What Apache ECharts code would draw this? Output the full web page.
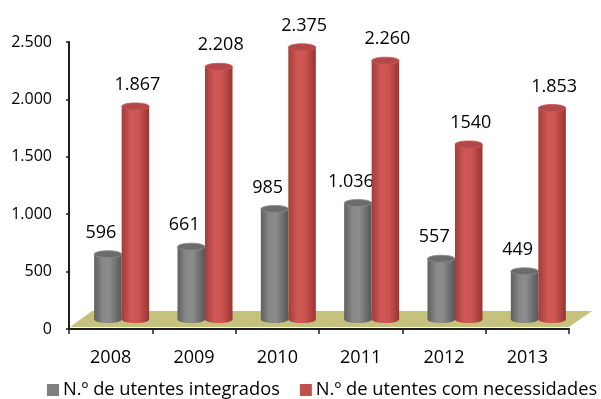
<!DOCTYPE html>
<html>
<head>
<meta charset="utf-8">
<script src="https://cdn.jsdelivr.net/npm/echarts@6/dist/echarts.min.js"></script>
<style>
  html, body { margin: 0; padding: 0; background: #ffffff; }
  #chart { width: 601px; height: 399px; }
</style>
</head>
<body>
<div id="chart"></div>
<script>
// Utentes por ano
const years = ['2008', '2009', '2010', '2011', '2012', '2013'];
const integrados = [596, 661, 985, 1036, 557, 449];
const necessidades = [1867, 2208, 2375, 2260, 1540, 1853];
const integradosText = ['596', '661', '985', '1.036', '557', '449'];
const necessidadesText = ['1.867', '2.208', '2.375', '2.260', '1540', '1.853'];
const yMax = 2500;
const yStep = 500;

const FONT = '"Open Sans", "Liberation Sans", sans-serif';

// thousands separator with a dot: 2500 -> "2.500"
function fmtThousands(v) {
  if (v < 1000) return String(v);
  const r = v % 1000;
  return Math.floor(v / 1000) + '.' + String(r).padStart(3, '0');
}

// 3D-looking cylinder for one data item; side = -1 (left column) or +1 (right column)
function cylinderRenderer(texts, body, topFill, side, labelShift) {
  return function (params, api) {
    const cat = api.value(0);
    const val = api.value(1);
    const base = api.coord([cat, 0]);
    const tip = api.coord([cat, val]);
    const band = api.size([1, 0])[0];
    const rx = band * 0.165;
    const ry = 3.5;
    const cx = base[0] + band * 0.132 + side * rx;
    const yBottom = base[1] - 9.5;
    const yTop = base[1] + (tip[1] - base[1]) * 1.013 - 5.5;
    const grad = {
      type: 'linear', x: 0, y: 0, x2: 1, y2: 0,
      colorStops: body
    };
    return {
      type: 'group',
      children: [
        { type: 'ellipse', shape: { cx: cx, cy: yBottom, rx: rx, ry: ry }, style: { fill: grad } },
        { type: 'rect', shape: { x: cx - rx, y: yTop, width: rx * 2, height: yBottom - yTop }, style: { fill: grad } },
        { type: 'ellipse', shape: { cx: cx, cy: yTop, rx: rx, ry: ry }, style: { fill: topFill, stroke: body[2].color, lineWidth: 0.8 } },
        {
          type: 'text',
          style: {
            text: texts[params.dataIndex],
            x: cx + labelShift,
            y: yTop - ry - 9,
            align: 'center',
            verticalAlign: 'bottom',
            fontSize: 18,
            fontFamily: FONT,
            fill: '#000000'
          }
        }
      ]
    };
  };
}

// olive floor under the columns, slanted back into depth
function floorRenderer(params, api) {
  const cs = params.coordSys;
  const y0 = cs.y + cs.height;
  return {
    type: 'polygon',
    shape: {
      points: [
        [cs.x + 1, y0 - 2],
        [cs.x + 23, y0 - 18],
        [cs.x + cs.width + 23, y0 - 18],
        [cs.x + cs.width, y0 - 2]
      ]
    },
    style: { fill: '#c5c37b' }
  };
}

const grayBody = [
  { offset: 0, color: '#5f5f5f' },
  { offset: 0.3, color: '#878787' },
  { offset: 0.55, color: '#8c8c8c' },
  { offset: 1, color: '#575757' }
];
const redBody = [
  { offset: 0, color: '#a23c3a' },
  { offset: 0.35, color: '#d05956' },
  { offset: 0.6, color: '#cd5552' },
  { offset: 1, color: '#993432' }
];

const chart = echarts.init(document.getElementById('chart'), null, { renderer: 'canvas' });

chart.setOption({
  backgroundColor: '#ffffff',
  animation: false,
  grid: { left: 69, right: 32, top: 42, bottom: 70 },
  legend: {
    left: 47,
    top: 381,
    padding: 0,
    itemWidth: 12,
    itemHeight: 12,
    itemGap: 20,
    icon: 'rect',
    textStyle: { fontSize: 18.3, fontFamily: FONT, color: '#000000', padding: [0, 0, 0, -1] },
    data: ['N.º de utentes integrados', 'N.º de utentes com necessidades']
  },
  xAxis: {
    type: 'category',
    data: years,
    axisLine: { show: true, lineStyle: { color: '#1e1e1e', width: 2 } },
    axisTick: { show: true, length: 5, lineStyle: { color: '#1e1e1e', width: 1.5 } },
    axisLabel: { fontSize: 18, fontFamily: FONT, color: '#000000', margin: 20 },
    splitLine: { show: false }
  },
  yAxis: {
    type: 'value',
    min: 0,
    max: yMax,
    interval: yStep,
    axisLine: { show: true, lineStyle: { color: '#1e1e1e', width: 2 } },
    axisTick: { show: true, length: 3, lineStyle: { color: '#1e1e1e', width: 1.5 } },
    axisLabel: { fontSize: 16, fontFamily: FONT, color: '#000000', margin: 17, formatter: fmtThousands },
    splitLine: { show: false }
  },
  series: [
    {
      type: 'custom',
      name: 'floor',
      silent: true,
      z: 1,
      renderItem: floorRenderer,
      data: [[0, 0]]
    },
    {
      type: 'custom',
      name: 'N.º de utentes integrados',
      z: 2,
      itemStyle: { color: '#7f7f7f' },
      renderItem: cylinderRenderer(integradosText, grayBody, '#6c6c6c', -1, -7),
      encode: { x: 0, y: 1 },
      data: integrados.map((v, i) => [i, v])
    },
    {
      type: 'custom',
      name: 'N.º de utentes com necessidades',
      z: 3,
      itemStyle: { color: '#c0504d' },
      renderItem: cylinderRenderer(necessidadesText, redBody, '#b4474a', 1, 2),
      encode: { x: 0, y: 1 },
      data: necessidades.map((v, i) => [i, v])
    }
  ]
});
</script>
</body>
</html>
